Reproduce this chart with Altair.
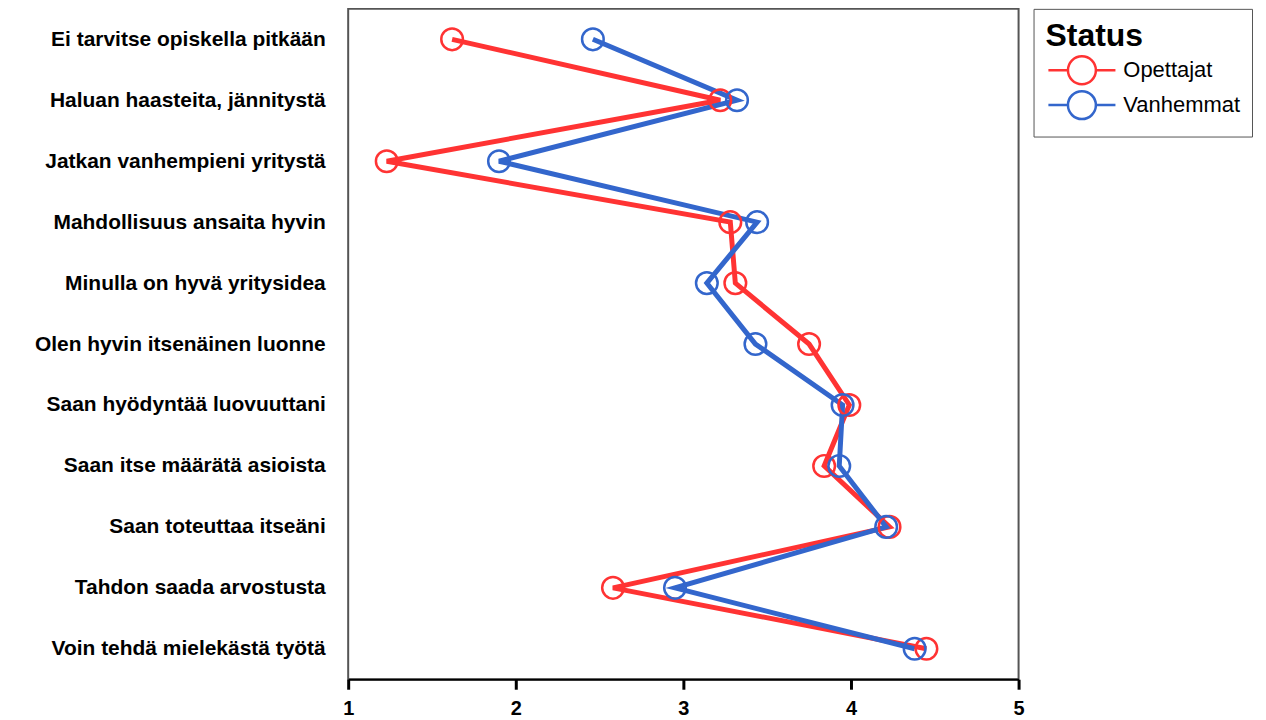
import altair as alt
import pandas as pd

categories = [
    "Ei tarvitse opiskella pitkään",
    "Haluan haasteita, jännitystä",
    "Jatkan vanhempieni yritystä",
    "Mahdollisuus ansaita hyvin",
    "Minulla on hyvä yritysidea",
    "Olen hyvin itsenäinen luonne",
    "Saan hyödyntää luovuuttani",
    "Saan itse määrätä asioista",
    "Saan toteuttaa itseäni",
    "Tahdon saada arvostusta",
    "Voin tehdä mielekästä työtä",
]
opettajat = [1.62, 3.22, 1.23, 3.28, 3.31, 3.75, 3.99, 3.84, 4.23, 2.58, 4.45]
vanhemmat = [2.46, 3.32, 1.90, 3.44, 3.14, 3.43, 3.95, 3.93, 4.21, 2.95, 4.38]
groups = ["Opettajat", "Vanhemmat"]
colors = ["#FF3333", "#3366CC"]

rows = []
for i, c in enumerate(categories):
    rows.append({"cat": c, "val": opettajat[i], "Status": groups[0], "idx": i})
    rows.append({"cat": c, "val": vanhemmat[i], "Status": groups[1], "idx": i})
df = pd.DataFrame(rows)

xenc = alt.X("val:Q", scale=alt.Scale(domain=[1, 5], nice=False, zero=False),
             axis=alt.Axis(values=[1, 2, 3, 4, 5], title=None, grid=False,
                           domainColor="black", domainWidth=2,
                           tickColor="black", tickWidth=3, tickSize=10,
                           labelFont="Liberation Sans", labelFontWeight="bold",
                           labelFontSize=20, labelColor="black", labelPadding=9,
                           labelFlush=False, format="d"))
yenc = alt.Y("cat:N", sort=categories,
             scale=alt.Scale(type="point", padding=0.5),
             axis=alt.Axis(title=None, ticks=False, domain=False, grid=False,
                           labelFont="Liberation Sans", labelFontWeight="bold",
                           labelFontSize=21, labelColor="black", labelPadding=23,
                           labelLimit=400))
color = alt.Color("Status:N", scale=alt.Scale(domain=groups, range=colors),
                  legend=alt.Legend(
                      title="Status", orient="none", legendX=687, legendY=0,
                      titleFont="Liberation Sans", titleFontSize=32,
                      titleFontWeight="bold", titleColor="black",
                      labelFont="Liberation Sans", labelFontSize=22,
                      labelColor="black", labelOffset=26,
                      symbolType="M-1,0 A1,1 0 1,1 1,0 A1,1 0 1,1 -1,0 M-2.4,0 L-1,0 M1,0 L2.4,0",
                      symbolSize=784, symbolStrokeWidth=2.5, symbolFillColor="transparent",
                      symbolOpacity=1, symbolOffset=21,
                      rowPadding=-10, padding=12, strokeColor="#555555",
                      fillColor="white", titlePadding=2))

base = alt.Chart(df)
lines = base.mark_line(strokeWidth=5).encode(
    x=xenc, y=yenc, color=color, detail="Status:N", order="idx:Q")
points = base.mark_point(shape="circle", filled=False, size=470, strokeWidth=2.5, opacity=1).encode(
    x=xenc, y=yenc, color=alt.Color("Status:N", scale=alt.Scale(domain=groups, range=colors), legend=None))

chart = alt.layer(lines, points).properties(
    width=672, height=672,
    autosize=alt.AutoSizeParams(type="none"),
    padding={"left": 341, "top": 0, "right": 240, "bottom": 40},
    background="white",
).configure_view(stroke="#555555", strokeWidth=2)

chart.save("out.html", embed_options={"renderer": "svg", "actions": False})
